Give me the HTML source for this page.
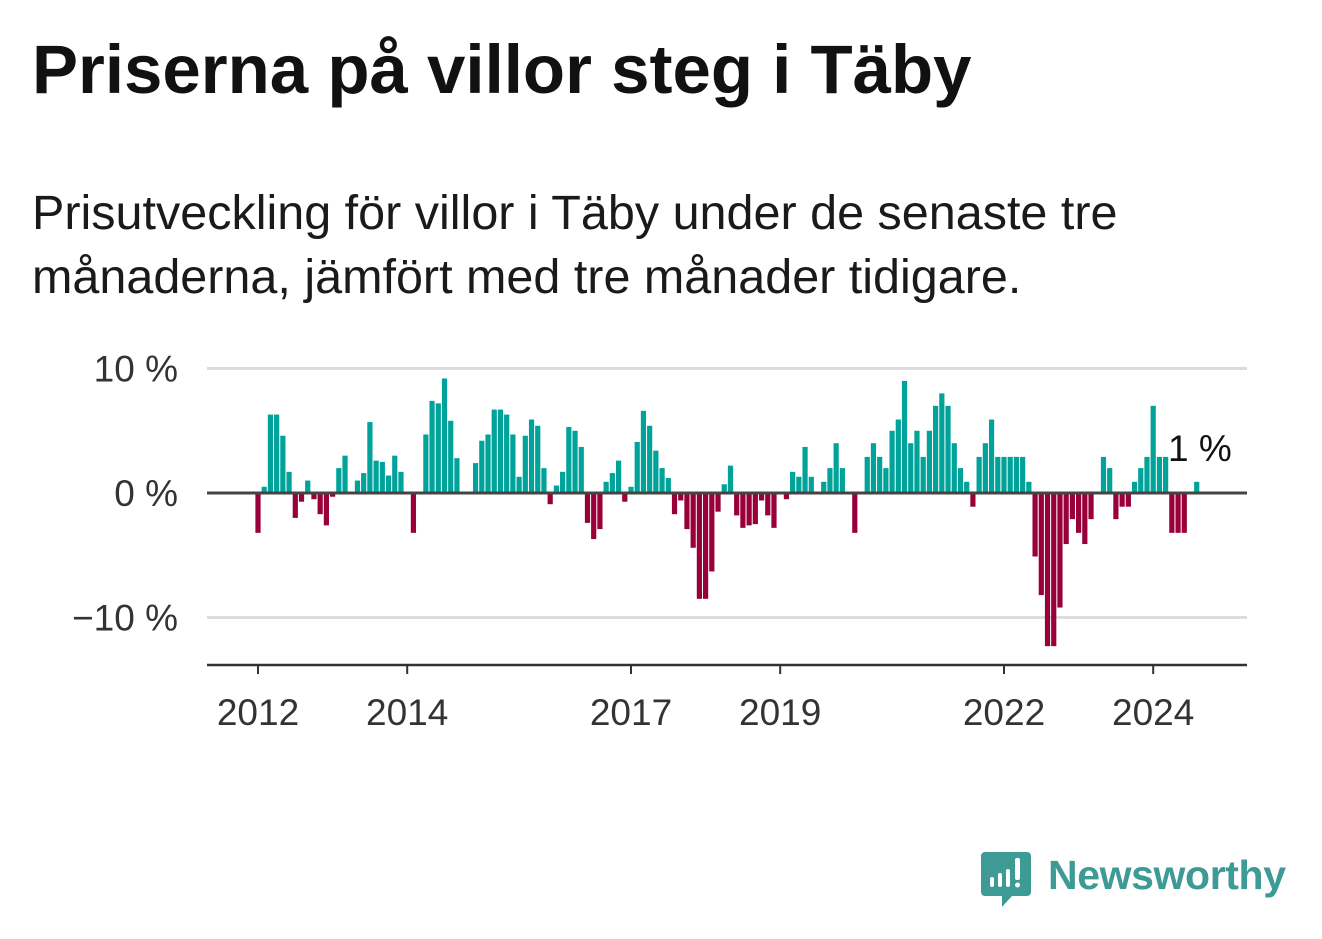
<!DOCTYPE html>
<html><head><meta charset="utf-8"><style>
html,body{margin:0;padding:0;background:#fff;}
body{width:1322px;height:939px;position:relative;overflow:hidden;font-family:"Liberation Sans",sans-serif;}
#title{position:absolute;left:32px;top:31px;font-size:69px;line-height:78px;font-weight:bold;color:#111;margin:0;white-space:nowrap;}
#subtitle{position:absolute;left:32px;top:181px;font-size:48.5px;line-height:64px;color:#1a1a1a;margin:0;white-space:nowrap;}
svg{position:absolute;left:0;top:0;}
</style></head><body>
<h1 id="title">Priserna på villor steg i Täby</h1>
<p id="subtitle">Prisutveckling för villor i Täby under de senaste tre<br>månaderna, jämfört med tre månader tidigare.</p>
<svg id="chart" width="1322" height="939"></svg>
<script>
const values = [-3.2,0.5,6.3,6.3,4.6,1.7,-2.0,-0.7,1.0,-0.5,-1.7,-2.6,-0.3,2.0,3.0,0,1.0,1.6,5.7,2.6,2.5,1.4,3.0,1.7,0,-3.2,0,4.7,7.4,7.2,9.2,5.8,2.8,0,0,2.4,
4.2,4.7,6.7,6.7,6.3,4.7,1.3,4.6,5.9,5.4,2.0,-0.9,0.6,1.7,5.3,5.0,3.7,-2.4,-3.7,-2.9,0.9,1.6,2.6,-0.7,0.5,4.1,6.6,5.4,3.4,2.0,1.2,-1.7,-0.6,-2.9,-4.4,-8.5,-8.5,-6.3,-1.5,
0.7,2.2,-1.8,-2.8,-2.6,-2.5,-0.6,-1.8,-2.8,0,-0.5,1.7,1.3,3.7,1.3,0,0.9,2.0,4.0,2.0,0,-3.2,0,2.9,4.0,2.9,2.0,5.0,5.9,9.0,4.0,5.0,2.9,5.0,7.0,8.0,7.0,4.0,2.0,0.9,
-1.1,2.9,4.0,5.9,2.9,2.9,2.9,2.9,2.9,0.9,-5.1,-8.2,-12.3,-12.3,-9.2,-4.1,-2.1,-3.2,-4.1,-2.1,0,2.9,2.0,-2.1,-1.1,-1.1,0.9,2.0,2.9,7.0,2.9,2.9,-3.2,-3.2,-3.2,0,0.9];
const startYear = 2012;
const yTicks = [10,0,-10];
const yTickLabels = ["10 %","0 %","−10 %"];
const xTicks = [2012,2014,2017,2019,2022,2024];
const lastLabel = "1 %";

const NS="http://www.w3.org/2000/svg";
const svg=document.getElementById('chart');
function x(monthIdx){return 258+monthIdx*(74.6/12);}
function xYear(yr){return x((yr-startYear)*12);}
function y(v){return 493 - v*12.45;}
function mk(tag,attrs){const e=document.createElementNS(NS,tag);for(const k in attrs)e.setAttribute(k,attrs[k]);svg.appendChild(e);return e;}

yTicks.forEach((t,i)=>{
  if(t!==0){const g=mk('line',{x1:207,x2:1247,y1:y(t),y2:y(t),stroke:'#dcdcdc','stroke-width':3});
  
  }
  const tx=mk('text',{x:178,y:y(t)+13,'text-anchor':'end','font-size':37,fill:'#333','font-family':'Liberation Sans, sans-serif'});
  tx.textContent=yTickLabels[i];
  
  
});

values.forEach((v,i)=>{
  if(v===0)return;
  const cx=x(i);
  const r=mk('rect',{x:cx-2.6,width:5.2,y:Math.min(y(v),y(0)),height:Math.abs(y(v)-y(0)),fill:v>0?'#00a39a':'#99003a'});
  
  
});

const zl=mk('line',{x1:207,x2:1247,y1:y(0),y2:y(0),stroke:'#444','stroke-width':3});



const ax=mk('line',{x1:207,x2:1247,y1:665,y2:665,stroke:'#333','stroke-width':2.5});



xTicks.forEach(yr=>{
  const t=mk('line',{x1:xYear(yr),x2:xYear(yr),y1:665,y2:674,stroke:'#333','stroke-width':2});
  
  
  const l=mk('text',{x:xYear(yr),y:725,'text-anchor':'middle','font-size':37,fill:'#333','font-family':'Liberation Sans, sans-serif'});
  l.textContent=yr;
  
  
});

const ll=mk('text',{x:1168,y:461,'font-size':37,fill:'#111','font-family':'Liberation Sans, sans-serif'});
ll.textContent=lastLabel;


</script>
<svg width="1322" height="939" style="position:absolute;left:0;top:0">
<path d="M985 852 h42 a4 4 0 0 1 4 4 v36 a4 4 0 0 1 -4 4 h-15 l-10 11 v-11 h-17 a4 4 0 0 1 -4 -4 v-36 a4 4 0 0 1 4 -4z" fill="#3d9a95"/>
<rect x="990" y="877" width="4" height="10" rx="2" fill="#fff"/>
<rect x="998" y="873" width="4" height="14" rx="2" fill="#fff"/>
<rect x="1006" y="869" width="4" height="18" rx="2" fill="#fff"/>
<rect x="1015" y="858" width="5" height="22" rx="2" fill="#fff"/>
<circle cx="1017.5" cy="885" r="2.5" fill="#fff"/>
<text x="1048" y="889" font-size="41" font-weight="bold" fill="#3d9a95" font-family="Liberation Sans, sans-serif" textLength="238">Newsworthy</text>
</svg>
</body></html>
